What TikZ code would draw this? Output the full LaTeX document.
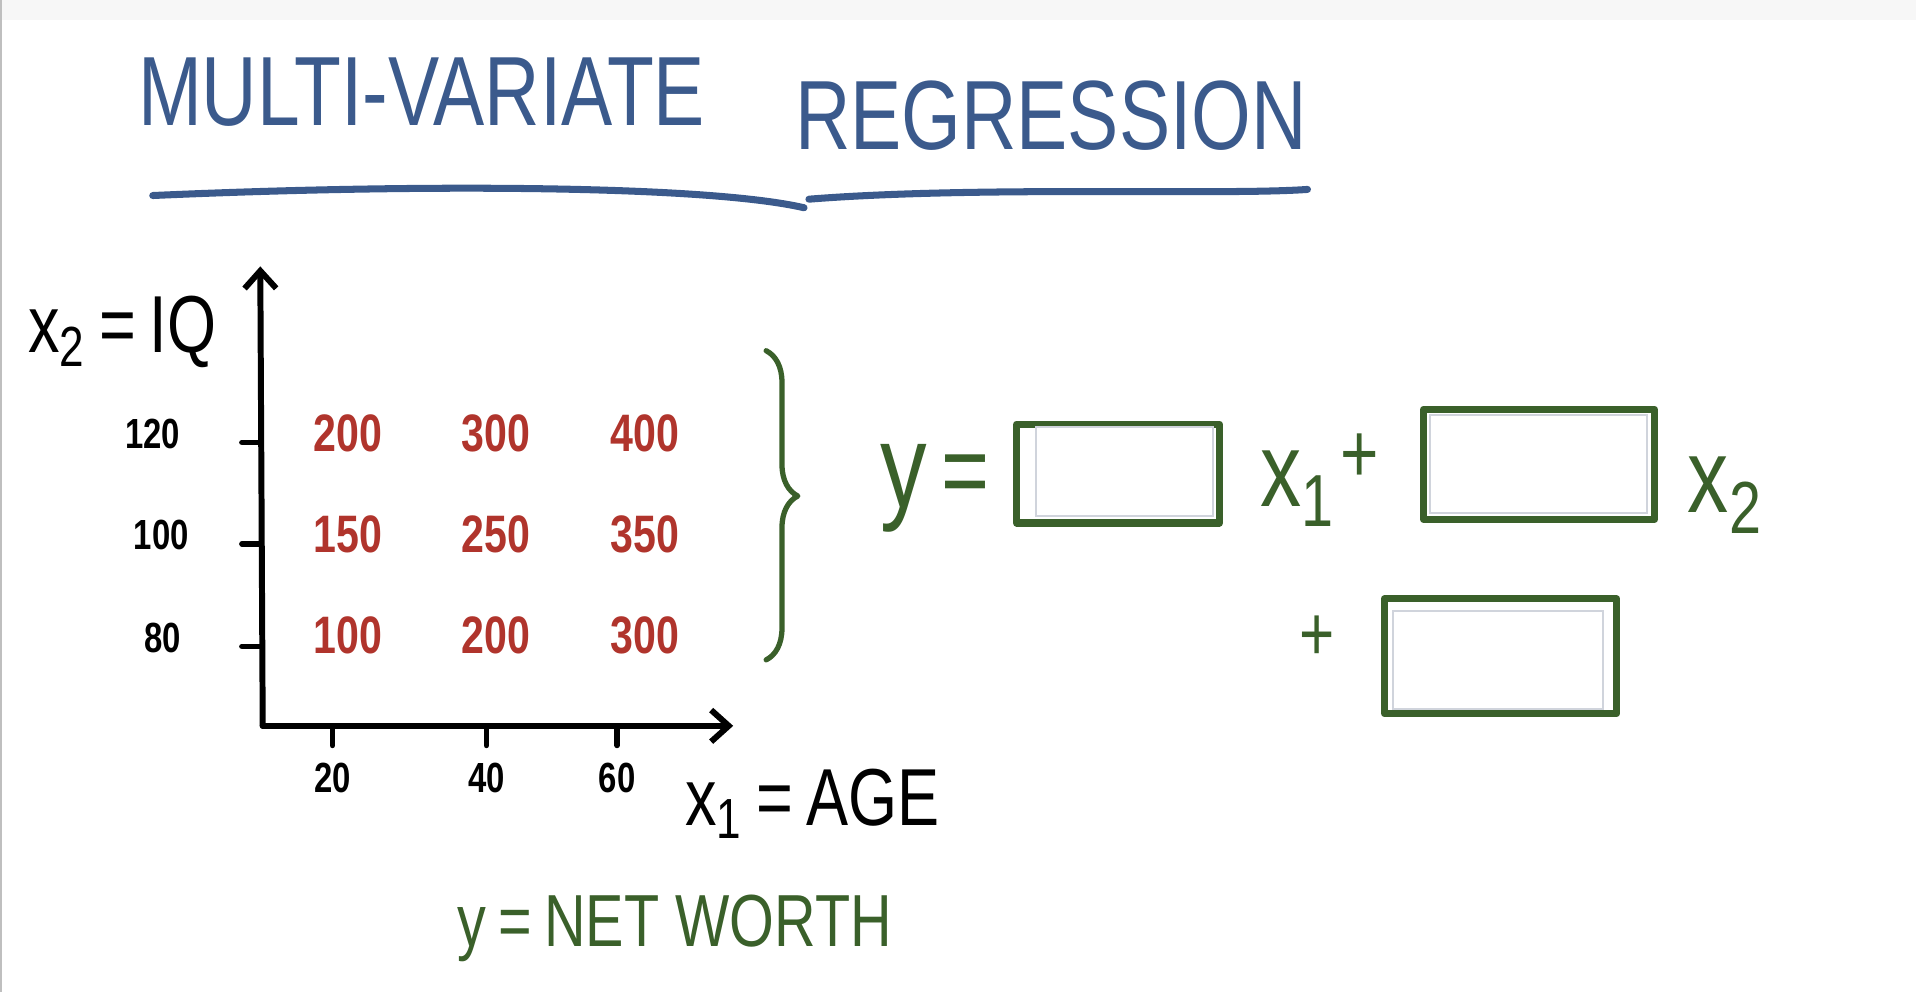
\documentclass[tikz,border=0pt]{standalone}
\usepackage{fontspec}
\setmainfont[FakeStretch=0.78]{Liberation Sans}
\usetikzlibrary{arrows.meta,decorations.pathreplacing}
\definecolor{penblue}{RGB}{59,90,140}
\definecolor{penred}{RGB}{176,52,44}
\definecolor{pengreen}{RGB}{58,96,42}
\definecolor{boxgray}{RGB}{208,212,220}

\begin{document}
\begin{tikzpicture}[x=0.012219cm,y=-0.012219cm,
    axis/.style={line width=1.7pt,line cap=round,line join=round},
    tickmark/.style={line width=1.6pt,line cap=round},
    val/.style={text=penred,font=\fontsize{15}{15}\selectfont\bfseries},
    lab/.style={font=\fontsize{12}{12}\selectfont\bfseries},
    eq/.style={text=pengreen,font=\fontsize{30}{30}\selectfont},
    pen/.style={draw=pengreen,line width=2pt,line cap=round,line join=round},
    blank/.style={draw=boxgray,fill=white,line width=0.6pt,inner sep=0pt}]
  \useasboundingbox (0,0) rectangle (1568,812);
  \fill[black!3] (0,0) rectangle (1568,16);
  \draw[black!25,line width=0.6pt] (0.5,0) -- (0.5,812);
  % title
  \node[text=penblue,font=\fontsize{28}{28}\selectfont] (multi) at (345,75) {MULTI-VARIATE};
  \node[text=penblue,font=\fontsize{28}{28}\selectfont] (regr) at (860,95) {REGRESSION};
  \draw[penblue,line width=2pt,line cap=round] (125,160) .. controls (350,150) and (580,152) .. (658,170);
  \draw[penblue,line width=2pt,line cap=round] (662,163) .. controls (800,152) and (1000,160) .. (1070,155);
  % axes
  \coordinate (o) at (215,594);
  \coordinate (ytop) at (213,218);
  \coordinate (xend) at (600,594);
  \draw[axis,-{Straight Barb[length=5pt,width=9pt]}] (o) -- (ytop);
  \draw[axis,-{Straight Barb[length=5pt,width=9pt]}] (o) -- (xend);
  \node[font=\fontsize{23}{23}\selectfont] (x2lab) at (100,272) {x\textsubscript{2}\,=\,IQ};
  \node[font=\fontsize{23}{23}\selectfont] (x1lab) at (665,658) {x\textsubscript{1}\,=\,AGE};
  \foreach \yv/\lbl/\lx in {362/120/125, 445/100/132, 529/80/133} {
    \draw[tickmark] (198,\yv) -- (213,\yv);
    \node[lab] (y\lbl) at (\lx,\yv-7) {\lbl};
  }
  \foreach \xv/\lbl in {272/20, 398/40, 505/60} {
    \draw[tickmark] (\xv,595) -- (\xv,610);
    \node[lab] (x\lbl) at (\xv,637) {\lbl};
  }
  % data
  \foreach \yv/\a/\b/\c in {355/200/300/400, 437/150/250/350, 520/100/200/300} {
    \node[val] (a\yv) at (285,\yv) {\a};
    \node[val] (b\yv) at (406,\yv) {\b};
    \node[val] (c\yv) at (528,\yv) {\c};
  }
  \draw[pen,line width=1.5pt,decorate,decoration={brace,amplitude=9pt,aspect=0.47}] (627,287) -- (627,540);
  % equation
  \node[eq,font=\fontsize{34}{34}\selectfont] (ysym) at (740,400) {y};
  \node[eq] (eqsign) at (790,393) {=};
  \draw[pen] (832,347) rectangle (998,428);
  \node[blank,minimum width=1.77cm,minimum height=0.89cm] (w1) at (920,386) {};
  \node[eq] (x1) at (1062,400) {x\textsubscript{1}};
  \node[eq,font=\fontsize{24}{24}\selectfont] (plus1) at (1113,375) {+};
  \draw[pen] (1165,335) rectangle (1354,425);
  \node[blank,minimum width=2.17cm,minimum height=0.98cm] (w2) at (1259,380) {};
  \node[eq] (x2) at (1412,405) {x\textsubscript{2}};
  \node[eq,font=\fontsize{22}{22}\selectfont] (plus2) at (1078,522) {+};
  \draw[pen] (1133,490) rectangle (1323,584);
  \node[blank,minimum width=2.10cm,minimum height=0.98cm] (w3) at (1226,540) {};
  \node[text=pengreen,font=\fontsize{21}{21}\selectfont] (ylab) at (552,760) {y\,=\,NET WORTH};
\end{tikzpicture}
\end{document}
